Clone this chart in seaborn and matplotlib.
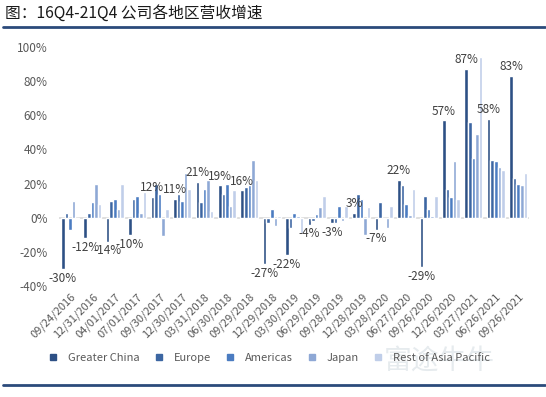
import pandas as pd
import numpy as np
import matplotlib
matplotlib.use('Agg')
import matplotlib.pyplot as plt
import seaborn as sns
from matplotlib.lines import Line2D

# 数据
quarters = ['09/24/2016', '12/31/2016', '04/01/2017', '07/01/2017', '09/30/2017',
            '12/30/2017', '03/31/2018', '06/30/2018', '09/29/2018', '12/29/2018',
            '03/30/2019', '06/29/2019', '09/28/2019', '12/28/2019', '03/28/2020',
            '06/27/2020', '09/26/2020', '12/26/2020', '03/27/2021', '06/26/2021',
            '09/26/2021']
regions = ['Greater China', 'Europe', 'Americas', 'Japan', 'Rest of Asia Pacific']

greater_china = [-30, -12, -14, -10, 12, 11, 21, 19, 16, -27, -22, -4, -3, 3, -7, 22, -29, 57, 87, 58, 83]
europe = [3, 3, 10, 11, 20, 14, 9, 14, 18, -3, -6, -2, -3, 14, 9, 19, 13, 17, 56, 34, 23]
americas = [-7, 9, 11, 13, 14, 10, 17, 20, 19, 5, 3, 2, 7, 11, 0, 8, 5, 12, 35, 33, 20]
japan = [10, 20, 5, 3, -11, 26, 22, 7, 34, -5, 1, 6, -2, -10, -6, 1.5, 1, 33, 49, 30, 19]
rest_apac = [-1, 8, 20, 15, 5, 17, 4, 16, 22, 1, -9, 13, 7, 6, 7, 17, 13, 11, 94, 28, 26]

colors = ['#2D5085', '#3C66A2', '#4B7CC1', '#8EA8D5', '#C0CEE9']

# 设定字型
sns.set_theme(style='white')
plt.rcParams['font.family'] = ['Noto Sans CJK SC', 'DejaVu Sans']
plt.rcParams['axes.unicode_minus'] = False

df = pd.DataFrame({'quarter': quarters * 5,
                   'region': np.repeat(regions, len(quarters)),
                   'growth': greater_china + europe + americas + japan + rest_apac})

fig = plt.figure(figsize=(5.46, 3.97), dpi=100)
ax = fig.add_axes([0.1077, 0.2796, 0.862, 0.602])

sns.barplot(data=df, x='quarter', y='growth', hue='region', order=quarters,
            hue_order=regions, palette=colors, width=0.8, gap=0,
            saturation=1, ax=ax, legend=False)

ax.set_xlim(-0.5, len(quarters) - 0.5)
ax.set_ylim(-40, 100)
ax.set_yticks(range(-40, 101, 20))
ax.set_yticklabels([f'{v}%' for v in range(-40, 101, 20)], fontsize=8.5, color='#595959')
ax.set_xticks(range(len(quarters)))
ax.set_xticklabels(quarters, rotation=45, ha='right', rotation_mode='anchor',
                   fontsize=8, color='#595959')
ax.tick_params(axis='y', length=0, pad=8)
ax.tick_params(axis='x', length=0, pad=4)
ax.set_xlabel('')
ax.set_ylabel('')
for s in ax.spines.values():
    s.set_visible(False)
ax.axhline(0, color='#D9D9D9', lw=1.2, zorder=0)

# 大中华区数据标签
gc_bars = ax.containers[0]
for bar, v in zip(gc_bars, greater_china):
    x = bar.get_x() + bar.get_width() / 2
    if v >= 0:
        ax.annotate(f'{v}%', (x, v), xytext=(0, 2), textcoords='offset points',
                    ha='center', va='bottom', fontsize=8.5, color='#404040')
    else:
        ax.annotate(f'{v}%', (x, v), xytext=(0, -2), textcoords='offset points',
                    ha='center', va='top', fontsize=8.5, color='#404040')

# 水印
fig.text(0.805, 0.092, '富途牛牛', fontsize=20, color='#E6EBEE', ha='center',
         va='center', zorder=0)

# 图例
handles = [Line2D([0], [0], marker='s', ls='', color=c, markersize=4.5) for c in colors]
fig.legend(handles, regions, loc='center', bbox_to_anchor=(0.492, 0.098), ncol=5,
           frameon=False, fontsize=8, labelcolor='#595959', handlelength=1.0,
           handletextpad=0.85, columnspacing=1.2)

# 标题与分隔线
fig.text(0.010, 0.967, '图：16Q4-21Q4 公司各地区营收增速', fontsize=11.3,
         color='#1A1A1A', ha='left', va='center')
fig.add_artist(Line2D([0.005, 0.998], [0.933, 0.933], color='#2B4B7B', lw=2))
fig.add_artist(Line2D([0.005, 0.998], [0.030, 0.030], color='#2B4B7B', lw=2))

fig.savefig('out.png', dpi=100)
